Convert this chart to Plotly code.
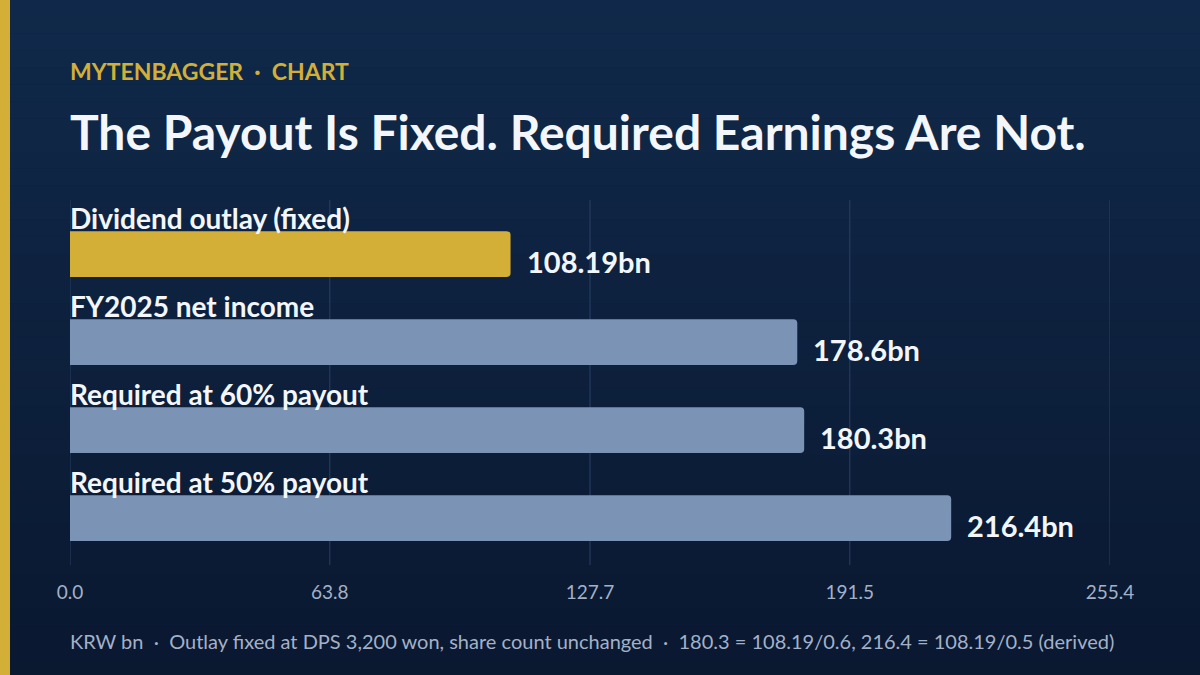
import plotly.graph_objects as go

# values (KRW bn)
categories = ["Dividend outlay (fixed)", "FY2025 net income",
              "Required at 60% payout", "Required at 50% payout"]
values = [108.19, 178.6, 180.3, 216.4]
value_labels = ["108.19bn", "178.6bn", "180.3bn", "216.4bn"]
tick_vals = [0.0, 63.8, 127.7, 191.5, 255.4]
tick_text = ["0.0", "63.8", "127.7", "191.5", "255.4"]

kicker = "MYTENBAGGER  ·  CHART"
title = "The Payout Is Fixed. Required Earnings Are Not."
footer = ("KRW bn  ·  Outlay fixed at DPS 3,200 won, share count unchanged  ·  "
          "180.3 = 108.19/0.6, 216.4 = 108.19/0.5 (derived)")

GOLD = "#d4af37"
SLATE = "#7b93b5"
GRID = "#2a4066"
FONT = "Lato"

pos = list(range(len(categories)))
colors = [GOLD] + [SLATE] * (len(categories) - 1)

fig = go.Figure(go.Bar(
    x=values, y=pos, orientation="h",
    marker=dict(color=colors, line=dict(width=0)),
    width=0.52, hoverinfo="skip",
))

# background gradient in bands
top = (16, 41, 74)
bot = (10, 24, 48)
n = 40
shapes = []
for i in range(n):
    t = i / (n - 1)
    c = tuple(round(top[k] + (bot[k] - top[k]) * t) for k in range(3))
    shapes.append(dict(type="rect", xref="paper", yref="paper", layer="below",
                       x0=-70 / 1040, x1=1130 / 1040,
                       y0=1 + 200 / 365 - (i + 1) * 675 / 365 / n,
                       y1=1 + 200 / 365 - i * 675 / 365 / n,
                       fillcolor="rgb(%d,%d,%d)" % c, line=dict(width=0)))
# gridlines, including the two at the range ends
for tv in tick_vals:
    shapes.append(dict(type="line", xref="x", yref="paper", layer="below",
                       x0=tv, x1=tv, y0=0, y1=1,
                       line=dict(color=GRID, width=1)))
# gold stripe on the left
shapes.append(dict(type="rect", xref="paper", yref="paper",
                   x0=-70 / 1040, x1=-60 / 1040, y0=-110 / 365, y1=1 + 200 / 365,
                   fillcolor=GOLD, line=dict(width=0)))

ann = []
for i, (c, v, lab) in enumerate(zip(categories, values, value_labels)):
    ann.append(dict(x=0, y=i - 0.41, xref="x", yref="y", text="<b>%s</b>" % c,
                    showarrow=False, xanchor="left", yanchor="middle", xshift=-2,
                    font=dict(family=FONT, size=28, color="#f3f6fb")))
    ann.append(dict(x=v, y=i + 0.09, xref="x", yref="y", text="<b>%s</b>" % lab,
                    showarrow=False, xanchor="left", yanchor="middle", xshift=14,
                    font=dict(family=FONT, size=29, color="#f3f6fb")))

ann.append(dict(x=0, y=1 + 129 / 365, xref="paper", yref="paper",
                text="<b>%s</b>" % kicker, showarrow=False,
                xanchor="left", yanchor="middle", xshift=-2,
                font=dict(family=FONT, size=23, color=GOLD)))
ann.append(dict(x=0, y=1 + 68 / 365, xref="paper", yref="paper",
                text="<b>%s</b>" % title, showarrow=False,
                xanchor="left", yanchor="middle", xshift=-2,
                font=dict(family=FONT, size=48, color="#f3f6fb")))
ann.append(dict(x=0, y=-76 / 365, xref="paper", yref="paper",
                text=footer, showarrow=False,
                xanchor="left", yanchor="middle", xshift=-2,
                font=dict(family=FONT, size=20, color="#a3b1c8")))

fig.update_layout(
    width=1200, height=675,
    margin=dict(l=70, r=90, t=200, b=110),
    paper_bgcolor="#0d2040", plot_bgcolor="rgba(0,0,0,0)",
    barcornerradius=4,
    showlegend=False,
    shapes=shapes, annotations=ann,
    xaxis=dict(range=[0, 255.4], tickvals=tick_vals, ticktext=tick_text,
               showgrid=False, zeroline=False, showline=False, ticks="",
               ticklabelstandoff=14,
               tickfont=dict(family=FONT, size=19, color="#a3b1c8")),
    yaxis=dict(range=[3.534, -0.614], showgrid=False, zeroline=False,
               showticklabels=False, ticks=""),
)

fig.write_html("out.html", config={"displayModeBar": False},
               post_script="document.body.style.margin='0';")
